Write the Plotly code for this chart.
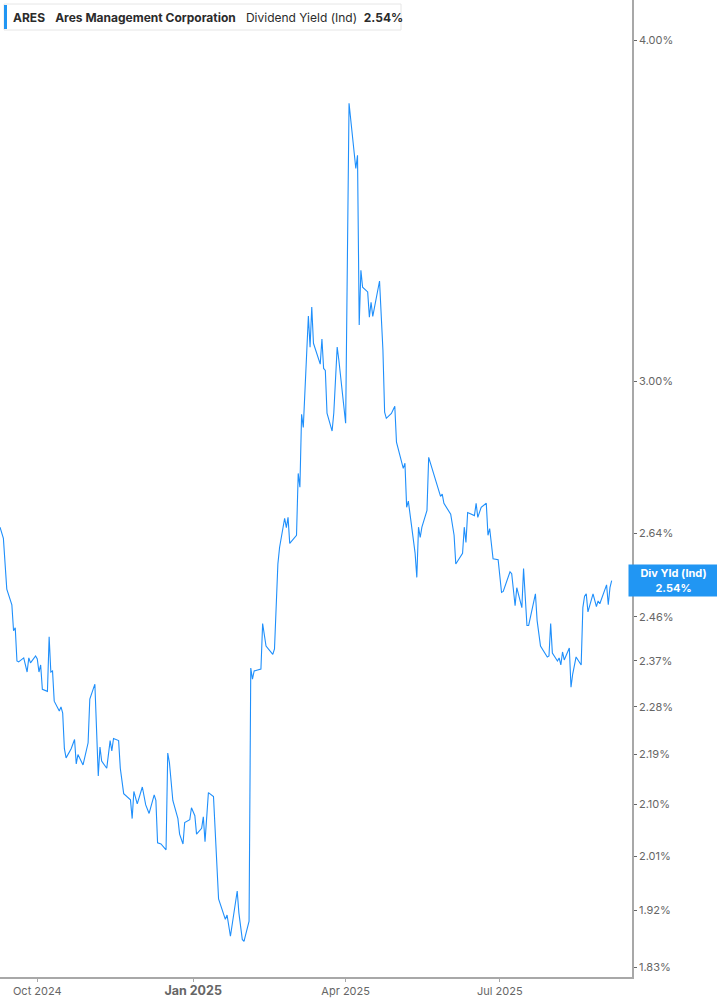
import numpy as np
import plotly.graph_objects as go

# Dividend yield (indicated), percent, ARES, Sep 2024 - Sep 2025
dates = [
    "2024-09-09", "2024-09-11", "2024-09-13", "2024-09-16", "2024-09-17", "2024-09-18",
    "2024-09-19", "2024-09-20", "2024-09-23", "2024-09-25", "2024-09-26", "2024-09-27",
    "2024-09-30", "2024-10-01", "2024-10-02", "2024-10-03", "2024-10-04", "2024-10-07",
    "2024-10-08", "2024-10-09", "2024-10-10", "2024-10-11", "2024-10-14", "2024-10-15",
    "2024-10-16", "2024-10-17", "2024-10-18", "2024-10-21", "2024-10-23", "2024-10-24",
    "2024-10-25", "2024-10-28", "2024-10-31", "2024-11-01", "2024-11-04", "2024-11-06",
    "2024-11-07", "2024-11-08", "2024-11-11", "2024-11-13", "2024-11-14", "2024-11-15",
    "2024-11-18", "2024-11-19", "2024-11-21", "2024-11-25", "2024-11-26", "2024-11-27",
    "2024-11-29", "2024-12-02", "2024-12-04", "2024-12-06", "2024-12-09", "2024-12-10",
    "2024-12-11", "2024-12-13", "2024-12-16", "2024-12-17", "2024-12-18", "2024-12-20",
    "2024-12-23", "2024-12-24", "2024-12-26", "2024-12-27", "2024-12-30", "2024-12-31",
    "2025-01-02", "2025-01-03", "2025-01-06", "2025-01-07", "2025-01-08", "2025-01-10",
    "2025-01-13", "2025-01-15", "2025-01-16", "2025-01-20", "2025-01-21", "2025-01-23",
    "2025-01-27", "2025-01-28", "2025-01-30", "2025-01-31", "2025-02-03", "2025-02-04",
    "2025-02-05", "2025-02-06", "2025-02-10", "2025-02-11", "2025-02-13", "2025-02-17",
    "2025-02-18", "2025-02-20", "2025-02-21", "2025-02-24", "2025-02-25", "2025-02-26",
    "2025-02-27", "2025-03-03", "2025-03-04", "2025-03-05", "2025-03-06", "2025-03-07",
    "2025-03-10", "2025-03-11", "2025-03-12", "2025-03-13", "2025-03-17", "2025-03-18",
    "2025-03-19", "2025-03-20", "2025-03-21", "2025-03-24", "2025-03-25", "2025-03-27",
    "2025-03-28", "2025-04-01", "2025-04-03", "2025-04-07", "2025-04-08", "2025-04-09",
    "2025-04-10", "2025-04-11", "2025-04-14", "2025-04-15", "2025-04-16", "2025-04-17",
    "2025-04-21", "2025-04-23", "2025-04-24", "2025-04-25", "2025-04-28", "2025-04-30",
    "2025-05-01", "2025-05-05", "2025-05-06", "2025-05-07", "2025-05-08", "2025-05-12",
    "2025-05-13", "2025-05-14", "2025-05-15", "2025-05-16", "2025-05-19", "2025-05-20",
    "2025-05-22", "2025-05-27", "2025-05-28", "2025-05-29", "2025-06-02", "2025-06-03",
    "2025-06-04", "2025-06-05", "2025-06-09", "2025-06-10", "2025-06-11", "2025-06-12",
    "2025-06-16", "2025-06-17", "2025-06-18", "2025-06-20", "2025-06-23", "2025-06-24",
    "2025-06-25", "2025-06-27", "2025-06-30", "2025-07-02", "2025-07-03", "2025-07-07",
    "2025-07-08", "2025-07-10", "2025-07-11", "2025-07-14", "2025-07-15", "2025-07-17",
    "2025-07-18", "2025-07-22", "2025-07-23", "2025-07-25", "2025-07-29", "2025-07-30",
    "2025-07-31", "2025-08-01", "2025-08-04", "2025-08-05", "2025-08-06", "2025-08-07",
    "2025-08-08", "2025-08-11", "2025-08-12", "2025-08-13", "2025-08-15", "2025-08-18",
    "2025-08-19", "2025-08-20", "2025-08-21", "2025-08-22", "2025-08-25", "2025-08-27",
    "2025-08-28", "2025-08-29", "2025-09-02", "2025-09-03", "2025-09-04", "2025-09-05",
]
div_yield = [
    2.653, 2.628, 2.518, 2.485, 2.431, 2.437,
    2.370, 2.368, 2.376, 2.348, 2.376, 2.366,
    2.380, 2.374, 2.348, 2.362, 2.314, 2.310,
    2.419, 2.348, 2.350, 2.291, 2.272, 2.280,
    2.268, 2.201, 2.184, 2.201, 2.218, 2.173,
    2.190, 2.171, 2.212, 2.295, 2.324, 2.151,
    2.204, 2.178, 2.165, 2.216, 2.197, 2.220,
    2.216, 2.165, 2.119, 2.108, 2.075, 2.123,
    2.101, 2.131, 2.099, 2.084, 2.117, 2.107,
    2.033, 2.031, 2.021, 2.193, 2.175, 2.107,
    2.075, 2.048, 2.031, 2.068, 2.073, 2.094,
    2.080, 2.048, 2.058, 2.078, 2.035, 2.121,
    2.114, 1.998, 1.939, 1.906, 1.913, 1.879,
    1.952, 1.916, 1.874, 1.871, 1.903, 2.356,
    2.334, 2.350, 2.354, 2.446, 2.400, 2.383,
    2.394, 2.572, 2.608, 2.673, 2.652, 2.675,
    2.617, 2.635, 2.776, 2.744, 2.918, 2.886,
    3.170, 3.088, 3.194, 3.098, 3.044, 3.109,
    3.033, 3.028, 2.921, 2.877, 2.921, 3.088,
    3.054, 2.896, 3.793, 3.590, 3.630, 3.146,
    3.295, 3.248, 3.235, 3.167, 3.207, 3.169,
    3.265, 3.080, 2.923, 2.908, 2.920, 2.938,
    2.850, 2.788, 2.800, 2.698, 2.712, 2.595,
    2.543, 2.653, 2.630, 2.653, 2.691, 2.814,
    2.788, 2.723, 2.728, 2.707, 2.682, 2.655,
    2.635, 2.572, 2.595, 2.653, 2.619, 2.686,
    2.679, 2.707, 2.675, 2.698, 2.707, 2.635,
    2.650, 2.583, 2.581, 2.511, 2.513, 2.555,
    2.551, 2.483, 2.521, 2.479, 2.562, 2.442,
    2.442, 2.508, 2.452, 2.400, 2.378, 2.380,
    2.446, 2.386, 2.370, 2.376, 2.362, 2.388,
    2.372, 2.396, 2.318, 2.344, 2.378, 2.362,
    2.479, 2.503, 2.508, 2.470, 2.508, 2.481,
    2.493, 2.487, 2.527, 2.485, 2.521, 2.536,
]

y_ticks = [4.00, 3.00, 2.64, 2.46, 2.37, 2.28, 2.19, 2.10, 2.01, 1.92, 1.83]
x_ticks = ["2024-10-01", "2025-01-01", "2025-04-01", "2025-07-01"]
x_tick_labels = ["Oct 2024", "<span style='font-size:12.5px'><b>Jan 2025</b></span>",
                 "Apr 2025", "Jul 2025"]

LINE = "#1f8ffb"
LABEL_BG = "#2196f3"
GREY = "#666666"
FONT = "Inter"

last = div_yield[-1]

fig = go.Figure()
fig.add_scatter(
    x=dates, y=div_yield, mode="lines",
    line=dict(color=LINE, width=1.1),
    hoverinfo="skip", showlegend=False,
)

fig.update_layout(
    width=717, height=1005,
    margin=dict(l=0, r=85, t=0, b=28),
    paper_bgcolor="white", plot_bgcolor="white",
    font=dict(family=FONT, size=11, color=GREY),
    showlegend=False,
    xaxis=dict(
        type="date",
        range=["2024-09-09", "2025-09-17"],
        tickvals=x_ticks, ticktext=x_tick_labels,
        showgrid=False, zeroline=False,
        showline=True, linecolor="#a8a8a8", linewidth=1.5,
        ticks="outside", ticklen=3, tickcolor="#a8a8a8",
        tickfont=dict(family=FONT, size=11, color=GREY),
    ),
    yaxis=dict(
        type="log", side="right",
        range=[0.2590, 0.6168],
        tickvals=y_ticks, ticktext=[f"{v:.2f}%" for v in y_ticks],
        showgrid=False, zeroline=False,
        showline=True, linecolor="#a8a8a8", linewidth=1.5,
        ticks="outside", ticklen=3, tickcolor=GREY,
        tickfont=dict(family=FONT, size=11, color=GREY),
    ),
)

# header box: white card with a blue left bar
fig.add_shape(
    type="rect", xref="paper", yref="paper",
    xsizemode="pixel", xanchor=0, x0=4, x1=401,
    ysizemode="pixel", yanchor=1, y0=-4, y1=-30,
    fillcolor="white", line=dict(color="#e6e6e6", width=1),
)
fig.add_shape(
    type="rect", xref="paper", yref="paper",
    xsizemode="pixel", xanchor=0, x0=4, x1=7,
    ysizemode="pixel", yanchor=1, y0=-5, y1=-29,
    fillcolor=LABEL_BG, line=dict(width=0),
)
fig.add_annotation(
    xref="paper", yref="paper", x=0, y=1, xanchor="left", yanchor="top",
    xshift=11, yshift=-8,
    text=("<b>ARES</b>&nbsp;&nbsp;&nbsp;<b>Ares Management Corporation</b>"
          "&nbsp;&nbsp;&nbsp;Dividend Yield (Ind)&nbsp;&nbsp;<b>2.54%</b>"),
    font=dict(family=FONT, size=12, color="#2b2b2b"),
    showarrow=False, align="left",
)

# last value tag on the right axis
fig.add_annotation(
    xref="paper", yref="y", x=1, y=np.log10(last),
    xanchor="left", yanchor="middle", xshift=-4,
    text=f"<b>Div Yld (Ind)</b><br><b>{last:.2f}%</b>",
    font=dict(family=FONT, size=11, color="white"),
    bgcolor=LABEL_BG, width=81, height=23, borderpad=4,
    showarrow=False, align="center",
)

fig.write_html(
    "out.html",
    config={"displayModeBar": False},
    post_script="document.body.style.margin='0';",
)
